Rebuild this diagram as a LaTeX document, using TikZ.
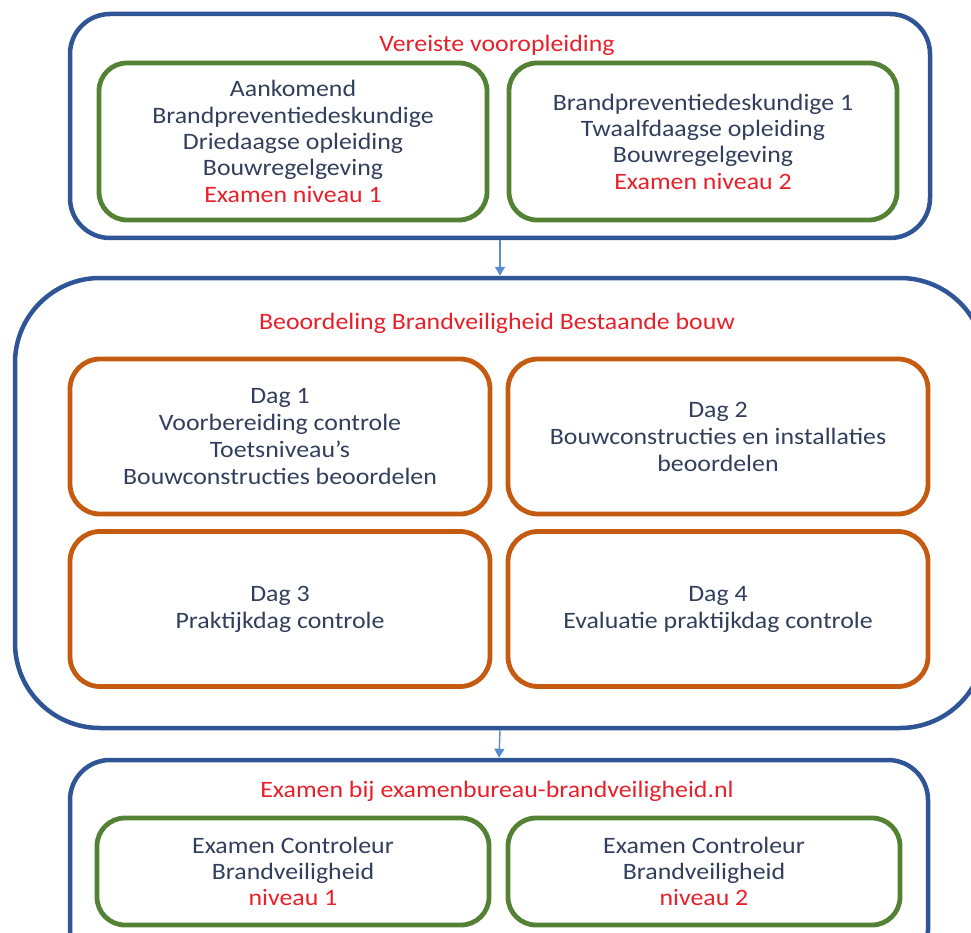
\documentclass[tikz,border=0pt]{standalone}
\usepackage{fontspec}
\setmainfont{Carlito}[FakeStretch=1.1]
\usetikzlibrary{arrows.meta}
\definecolor{frameblue}{HTML}{2F5597}
\definecolor{boxgreen}{HTML}{548235}
\definecolor{boxorange}{HTML}{C55A11}
\definecolor{bodytext}{HTML}{323F5C}
\definecolor{headred}{HTML}{E8202A}
\definecolor{arrowblue}{HTML}{5B8BD0}
\tikzset{
  frame/.style={draw=frameblue, line width=4.5pt, rectangle, inner sep=0pt},
  greenbox/.style={draw=boxgreen, line width=4.8pt, rectangle, rounded corners=28pt,
    minimum width=388pt, inner sep=0pt, align=center, text=bodytext,
    font=\fontsize{23.5}{26.3}\selectfont},
  orangebox/.style={draw=boxorange, line width=4.8pt, rectangle, rounded corners=30pt,
    minimum width=420pt, minimum height=155pt, inner sep=0pt, align=center, text=bodytext,
    font=\fontsize{23.5}{27}\selectfont},
  heading/.style={text=headred, font=\fontsize{23.5}{26}\selectfont, inner sep=0pt},
  flow/.style={draw=arrowblue, line width=1.4pt, -{Triangle[length=9pt,width=10pt]}}
}
\begin{document}
\begin{tikzpicture}[x=1pt,y=-1pt]
\useasboundingbox (0,0) rectangle (971,933);
\clip (0,0) rectangle (971,933);

% top group: prerequisites
\node[frame, rounded corners=40pt, minimum width=860pt, minimum height=224pt] (top) at (500,126) {};
\node[heading] (toptitle) at (497,45) {Vereiste vooropleiding};
\node[greenbox, minimum height=157pt] (pre1) at (293,141.5)
  {Aankomend\\Brandpreventiedeskundige\\Driedaagse opleiding\\Bouwregelgeving\\\textcolor{headred}{Examen niveau 1}};
\node[greenbox, minimum height=157pt] (pre2) at (703,141.5)
  {Brandpreventiedeskundige 1\\Twaalfdaagse opleiding\\Bouwregelgeving\\\textcolor{headred}{Examen niveau 2}};

% middle group: four course days
\node[frame, rounded corners=85pt, minimum width=970pt, minimum height=450pt] (mid) at (500,503) {};
\node[heading] (midtitle) at (497,323) {Beoordeling Brandveiligheid Bestaande bouw};
\node[orangebox] (dag1) at (280,436.5)
  {Dag 1\\Voorbereiding controle\\Toetsniveau’s\\Bouwconstructies beoordelen};
\node[orangebox] (dag2) at (718,436.5)
  {Dag 2\\Bouwconstructies en installaties\\beoordelen};
\node[orangebox] (dag3) at (280,609)
  {Dag 3\\Praktijkdag controle};
\node[orangebox] (dag4) at (718,609)
  {Dag 4\\Evaluatie praktijkdag controle};

% bottom group: exams
\node[frame, rounded corners=40pt, minimum width=858pt, minimum height=210pt] (exam) at (499,865) {};
\node[heading] (examtitle) at (497,791) {Examen bij examenbureau-brandveiligheid.nl};
\node[greenbox, minimum height=107pt, minimum width=392pt] (ex1) at (293,871.5)
  {Examen Controleur\\Brandveiligheid\\\textcolor{headred}{niveau 1}};
\node[greenbox, minimum height=107pt, minimum width=392pt] (ex2) at (704,871.5)
  {Examen Controleur\\Brandveiligheid\\\textcolor{headred}{niveau 2}};

% connectors between the groups
\draw[flow] (top.south) -- (mid.north);
\draw[flow] (mid.south) -- (exam.north);
\end{tikzpicture}
\end{document}
